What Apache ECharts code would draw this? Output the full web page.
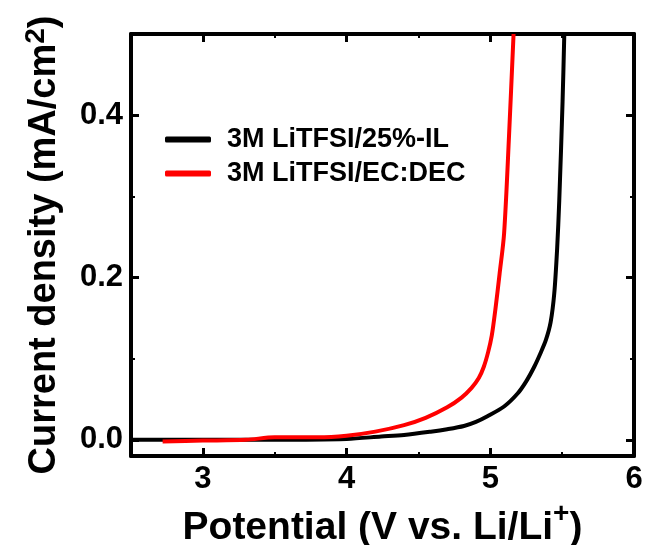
<!DOCTYPE html>
<html>
<head>
<meta charset="utf-8">
<script src="https://cdn.jsdelivr.net/npm/echarts@6/dist/echarts.min.js"></script>
<style>
  html, body { margin: 0; padding: 0; background: #fff; }
  #chart { width: 648px; height: 545px; }
</style>
</head>
<body>
<div id="chart"></div>
<script>
// potential (V) and current density (mA/cm2)
var ilPotential = [2.5, 3.0, 3.5, 4.0, 4.24, 4.4, 4.585, 4.7, 4.817, 4.9, 4.98, 5.096, 5.19, 5.25, 5.306, 5.35, 5.387, 5.42, 5.445, 5.465, 5.48, 5.503, 5.515]
var ilCurrent = [0.0, 0.0, 0.0, 0.001, 0.004, 0.006, 0.010, 0.013, 0.017, 0.022, 0.029, 0.041, 0.057, 0.072, 0.090, 0.107, 0.123, 0.145, 0.180, 0.235, 0.295, 0.417, 0.5]

var ecPotential = [2.72, 3.0, 3.3, 3.5, 3.8, 4.0, 4.2, 4.4, 4.55, 4.7, 4.8, 4.87, 4.92, 4.955, 4.985, 5.01, 5.035, 5.065, 5.096, 5.131, 5.162]
var ecCurrent = [-0.002, -0.001, 0.0, 0.003, 0.003, 0.005, 0.010, 0.018, 0.027, 0.040, 0.052, 0.064, 0.076, 0.090, 0.108, 0.128, 0.160, 0.205, 0.254, 0.377, 0.5]

var seriesNames = ['3M LiTFSI/25%-IL', '3M LiTFSI/EC:DEC']
var seriesColors = ['#000000', '#ff0000']

var FONT = "'Liberation Sans', Arial, sans-serif"

function pairs (xs, ys) {
  return xs.map(function (x, i) { return [x, ys[i]] })
}

function frameAxis (extra) {
  var base = {
    axisLine: { show: true, onZero: false, lineStyle: { color: '#000', width: 4 } },
    axisTick: { show: true, inside: true, length: 8, lineStyle: { color: '#000', width: 3 } },
    minorTick: { show: true, splitNumber: 2, length: 4, lineStyle: { color: '#000', width: 2 } },
    splitLine: { show: false },
    minorSplitLine: { show: false }
  }
  return Object.assign(base, extra)
}

var supStyle = { fontFamily: FONT, fontWeight: 'bold', fontSize: 28, color: '#000', verticalAlign: 'top', padding: [0, 0, 18, 0] }
var plusStyle = { fontFamily: FONT, fontWeight: 'bold', fontSize: 28, color: '#000', verticalAlign: 'top', padding: [0, 0, 28, 0] }

var chart = echarts.init(document.getElementById('chart'), null, { renderer: 'canvas' })

chart.setOption({
  backgroundColor: '#fff',
  animation: false,
  grid: { left: 131, right: 14, top: 34, bottom: 89, containLabel: false, outerBoundsMode: 'none' },
  legend: {
    left: 160,
    top: 121,
    orient: 'vertical',
    itemWidth: 46,
    itemHeight: 6,
    itemGap: 7,
    icon: 'roundRect',
    data: seriesNames,
    textStyle: { fontFamily: FONT, fontWeight: 'bold', fontSize: 27, color: '#000', padding: [0, 0, 0, 11] }
  },
  xAxis: [
    frameAxis({
      type: 'value', position: 'bottom', min: 2.5, max: 6, splitNumber: 4,
      name: 'Potential (V vs. Li/Li{sup|+})',
      nameLocation: 'middle',
      nameGap: 28,
      nameTextStyle: {
        fontFamily: FONT, fontWeight: 'bold', fontSize: 39, color: '#000',
        rich: { sup: plusStyle }
      },
      axisLabel: {
        margin: 8, color: '#000', fontFamily: FONT, fontWeight: 'bold', fontSize: 31,
        formatter: function (v) { return Math.abs(v - Math.round(v)) < 1e-6 ? String(Math.round(v)) : '' }
      }
    }),
    frameAxis({ type: 'value', position: 'top', min: 2.5, max: 6, splitNumber: 4, axisLabel: { show: false } })
  ],
  yAxis: [
    frameAxis({
      type: 'value', position: 'left', min: -0.02, max: 0.5, splitNumber: 3,
      name: 'Current density (mA/cm{sup|2})',
      nameLocation: 'middle',
      nameGap: 63,
      nameTextStyle: {
        fontFamily: FONT, fontWeight: 'bold', fontSize: 38, color: '#000',
        rich: { sup: supStyle }
      },
      axisLabel: {
        margin: 8, color: '#000', fontFamily: FONT, fontWeight: 'bold', fontSize: 31,
        formatter: function (v) {
          var k = v / 0.2
          return Math.abs(k - Math.round(k)) < 1e-6 ? v.toFixed(1) : ''
        }
      }
    }),
    frameAxis({ type: 'value', position: 'right', min: -0.02, max: 0.5, splitNumber: 3, axisLabel: { show: false } })
  ],
  series: [
    {
      name: seriesNames[0], type: 'line', data: pairs(ilPotential, ilCurrent),
      smooth: 0.3, showSymbol: false, symbol: 'none', clip: true,
      itemStyle: { color: seriesColors[0] },
      lineStyle: { color: seriesColors[0], width: 4 }
    },
    {
      name: seriesNames[1], type: 'line', data: pairs(ecPotential, ecCurrent),
      smooth: 0.3, showSymbol: false, symbol: 'none', clip: true,
      itemStyle: { color: seriesColors[1] },
      lineStyle: { color: seriesColors[1], width: 4 }
    }
  ]
})
</script>
</body>
</html>
